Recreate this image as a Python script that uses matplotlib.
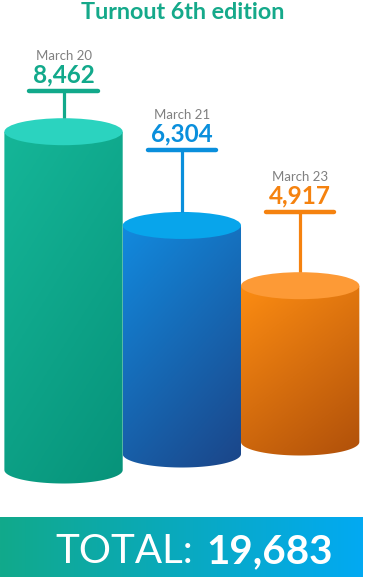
import numpy as np
import matplotlib.pyplot as plt
from matplotlib.patches import Polygon, Ellipse
from matplotlib.colors import LinearSegmentedColormap

plt.rcParams['font.family'] = ['Lato', 'DejaVu Sans']

# data
dates = ['March 20', 'March 21', 'March 23']
turnout = [8462, 6304, 4917]
title = 'Turnout 6th edition'

# styling
top_colors = ['#2bd3bf', '#08a5eb', '#fd9a36']
body_light = ['#15b698', '#128ade', '#fc8c12']
body_dark = ['#07937a', '#1b4588', '#b0500a']
label_colors = ['#12a98b', '#0a8fdc', '#f5820f']
leader_px = [27, 62, 60]   # length of the T stem above each cylinder
lift_px = [0, 16, 28]      # bottoms climb a bit to the right

W, H = 365, 577
fig = plt.figure(figsize=(W / 100, H / 100), dpi=100)
ax = fig.add_axes([0, 0, 1, 1])
ax.set_xlim(-0.537, 2.548)
ax.set_ylim(-1789, 11494)
ax.axis('off')

ppv = H / (11494 + 1789)   # pixels per unit of turnout
px = lambda p: p / ppv     # pixels -> value units
base = 674
ell_h = px(27)
bw = 1.0

for i, (d, v) in enumerate(zip(dates, turnout)):
    x0, x1 = i - bw / 2, i + bw / 2
    bottom = base + px(lift_px[i])
    z = 2 + i * 3

    # body: rectangle + lower half ellipse
    t = np.linspace(np.pi, 2 * np.pi, 60)
    arc = np.column_stack([i + bw / 2 * np.cos(t), bottom + ell_h / 2 * np.sin(t)])
    pts = np.vstack([[x0, v], arc, [x1, v]])
    body = Polygon(pts, closed=True, facecolor='none', edgecolor='none')
    ax.add_patch(body)

    cmap = LinearSegmentedColormap.from_list('c%d' % i, [body_light[i], body_dark[i]])
    u = np.linspace(0, 1, 50)[None, :]
    w = np.linspace(0, 1, 120)[:, None]
    grad = 0.35 * u + 0.65 * w
    im = ax.imshow(grad, cmap=cmap, vmin=0, vmax=1, aspect='auto',
                   extent=[x0, x1, bottom - ell_h / 2, v], origin='upper',
                   zorder=z, interpolation='bilinear')
    im.set_clip_path(body)

    # top face
    ax.add_patch(Ellipse((i, v), bw, ell_h, facecolor=top_colors[i],
                         edgecolor='none', zorder=z + 1))

    # T marker and labels
    top = v + ell_h / 2
    hy = top + px(leader_px[i])
    c = label_colors[i]
    ax.plot([i, i], [top, hy], color=c, lw=2.3, zorder=z + 1, solid_capstyle='butt')
    ax.plot([i - 0.29, i + 0.29], [hy, hy], color=c, lw=3.2, zorder=z + 2,
            solid_capstyle='round')
    ax.text(i, hy + px(9), f'{v:,}', color=c, fontsize=17.5, fontweight='bold',
            ha='center', va='baseline', zorder=z + 2)
    ax.text(i, hy + px(31), d, color='#808080', fontsize=9.5,
            ha='center', va='baseline', zorder=z + 2)

fig.text(0.5, 1 - 19 / H, title, color='#15a98a', fontsize=16.8,
         fontweight='bold', ha='center', va='baseline')

# total banner
bax = fig.add_axes([0, 0, 363 / W, 60 / H])
bcmap = LinearSegmentedColormap.from_list('ban', ['#11a98b', '#02aaf2'])
bax.imshow(np.linspace(0, 1, 200)[None, :], cmap=bcmap, aspect='auto',
           extent=[0, 1, 0, 1], interpolation='bilinear')
bax.set_xlim(0, 1)
bax.set_ylim(0, 1)
bax.axis('off')

total = sum(turnout)
fig.text(193 / W, 1 - 563 / H, 'TOTAL:', color='white', fontsize=29,
         fontweight='normal', ha='right', va='baseline')
fig.text(206 / W, 1 - 563 / H, f'{total:,}', color='white', fontsize=29,
         fontweight='bold', ha='left', va='baseline')

fig.savefig('out.png', dpi=100)
